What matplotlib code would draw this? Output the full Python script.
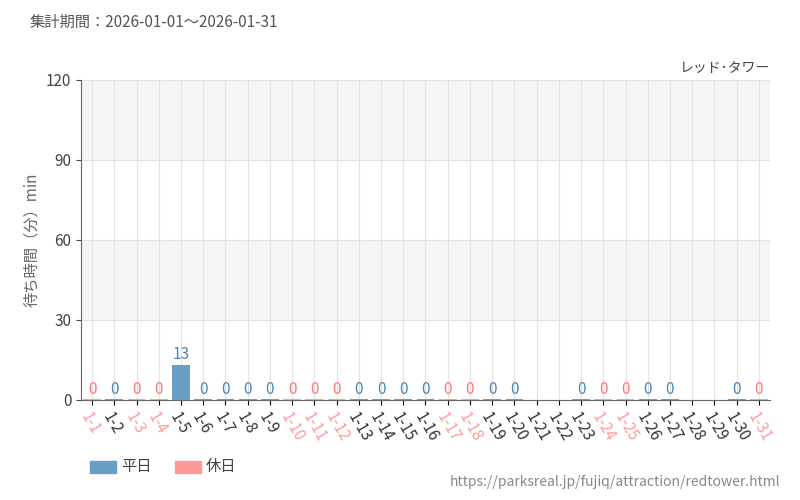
import matplotlib.pyplot as plt
import numpy as np

plt.rcParams['font.family'] = ['Noto Sans CJK JP', 'DejaVu Sans']

days = [f'1-{d}' for d in range(1, 32)]
holiday = [1, 0, 1, 1, 0, 0, 0, 0, 0, 1, 1, 1, 0, 0, 0, 0, 1, 1, 0, 0,
           0, 0, 0, 1, 1, 0, 0, 0, 0, 0, 1]
# None = no data
values = [0, 0, 0, 0, 13, 0, 0, 0, 0, 0, 0, 0, 0, 0, 0, 0, 0, 0, 0, 0,
          None, None, 0, 0, 0, 0, 0, None, None, 0, 0]

blue = '#6a9ec5'
red = '#ff9999'
blue_txt = '#4a86b8'
red_txt = '#ff7777'

fig = plt.figure(figsize=(8, 5), dpi=100)
ax = fig.add_axes([81/800, 100/500, 689/800, 320/500])

x = np.arange(len(days))
ax.axhspan(30, 60, color='#f5f5f5', zorder=0)
ax.axhspan(90, 120, color='#f5f5f5', zorder=0)
for i, v in enumerate(values):
    if v is None:
        continue
    c = red if holiday[i] else blue
    ax.bar(i, max(v, 0.4), width=0.8, color=c, zorder=3)
    ax.text(i, v + 0.8, str(v), ha='center', va='bottom', fontsize=11,
            color=red_txt if holiday[i] else blue_txt, fontstretch='condensed', zorder=4)

ax.set_xlim(-0.5, len(days) - 0.5)
ax.set_ylim(0, 120)
ax.set_yticks([0, 30, 60, 90, 120])
ax.set_xticks(x)
ax.set_xticklabels(days, rotation=-60, ha='left', rotation_mode='anchor', fontsize=11)
for lab, h in zip(ax.get_xticklabels(), holiday):
    lab.set_color(red if h else '#333333')
ax.tick_params(axis='y', labelsize=11, colors='#444444')
ax.grid(True, color='#e3e3e3', lw=0.8, zorder=1)
ax.set_axisbelow(True)
for s in ['top', 'right']:
    ax.spines[s].set_visible(False)
ax.spines['left'].set_color('#666666')
ax.spines['bottom'].set_color('#666666')
ax.set_ylabel('待ち時間（分）min', color='#666666', fontsize=11)

fig.text(30/800, 1 - 22/500, '集計期間：2026-01-01～2026-01-31', fontsize=11, color='#555555', va='center')
fig.text(770/800, 1 - 69/500, 'レッド･タワー', fontsize=10, color='#444444', ha='right', va='center')
fig.text(780/800, 1 - 482/500, 'https://parksreal.jp/fujiq/attraction/redtower.html',
         fontsize=10, color='#888888', ha='right', va='center')

fig.patches.append(plt.Rectangle((90/800, 1 - 473/500), 26/800, 12/500, color=blue, transform=fig.transFigure))
fig.text(121/800, 1 - 467/500, '平日', fontsize=11, color='#444444', va='center')
fig.patches.append(plt.Rectangle((175/800, 1 - 473/500), 26/800, 12/500, color=red, transform=fig.transFigure))
fig.text(206/800, 1 - 467/500, '休日', fontsize=11, color='#444444', va='center')

fig.savefig('out.png', dpi=100)
